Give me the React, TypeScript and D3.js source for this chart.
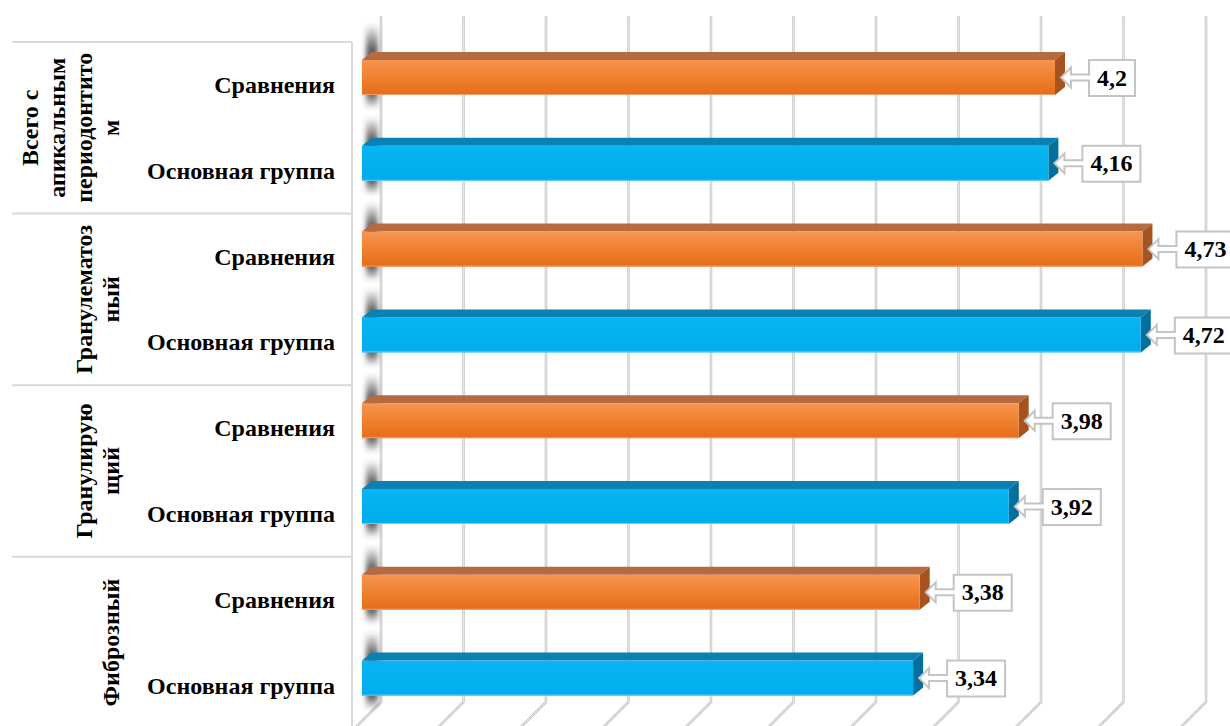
import React from "react";
import * as d3 from "d3";

// Categories (top to bottom) and their wrapped, rotated label lines
const categories = ["Всего с апикальным периодонтитом", "Гранулематозный", "Гранулирующий", "Фиброзный"];
const categoryLines = [
  ["Всего с", "апикальным", "периодонтито", "м"],
  ["Гранулематоз", "ный"],
  ["Гранулирую", "щий"],
  ["Фиброзный"],
];
const groups = ["Сравнения", "Основная группа"];
const comparisonValues = [4.2, 4.73, 3.98, 3.38];
const mainValues = [4.16, 4.72, 3.92, 3.34];
const axisMax = 5;

const W = 1230;
const H = 726;
const FONT =
  "'Liberation Serif', 'Times New Roman', Times, Tinos, 'Noto Serif', 'DejaVu Serif', FreeSerif, 'Nimbus Roman', serif";

type Row = { key: string; cat: number; group: number; value: number };

const rows: Row[] = [];
categories.forEach((c, i) => {
  rows.push({ key: `${c}|${groups[0]}`, cat: i, group: 0, value: comparisonValues[i] });
  rows.push({ key: `${c}|${groups[1]}`, cat: i, group: 1, value: mainValues[i] });
});

const fmt = (v: number) => String(v).replace(".", ",");
const textStyle: React.CSSProperties = { fontFamily: FONT, fontWeight: 700, fontSize: "24px" };

export default function App() {
  const tableTop = 42;
  const rowStep = 85.8;
  const y = d3
    .scaleBand<string>()
    .domain(rows.map((r) => r.key))
    .range([tableTop, tableTop + rows.length * rowStep])
    .padding(0);

  // front-face value scale and back-wall offset
  const x = d3.scaleLinear().domain([0, axisMax]).range([362, 1187]);
  const wallDx = 19;
  const depthDx = 10;
  const depthDy = 8;
  const barOffset = 18;
  const barH = 35;
  const wallTop = 17;
  const floorY = 702;

  const ticks = x.ticks(10);
  const catTops = categories.map((_, i) => y(rows[i * 2].key) as number);

  return (
    <svg
      width={W}
      height={H}
      style={{ position: "absolute", left: 0, top: 0, background: "#fff" }}
    >
      <defs>
        <linearGradient id="orangeFront" x1="0" y1="0" x2="0" y2="1">
          <stop offset="0" stopColor="#f69552" />
          <stop offset="0.5" stopColor="#f0802f" />
          <stop offset="1" stopColor="#e56d1b" />
        </linearGradient>
        <linearGradient id="blueFront" x1="0" y1="0" x2="0" y2="1">
          <stop offset="0" stopColor="#08b4f2" />
          <stop offset="1" stopColor="#00adec" />
        </linearGradient>
        <linearGradient id="wallShade" x1="0" y1="0" x2="0" y2="1">
          <stop offset="0" stopColor="#333" stopOpacity="0" />
          <stop offset="0.3" stopColor="#333" stopOpacity="0.8" />
          <stop offset="0.82" stopColor="#333" stopOpacity="0.8" />
          <stop offset="1" stopColor="#333" stopOpacity="0" />
        </linearGradient>
        <filter id="soft" x="-50%" y="-20%" width="200%" height="140%">
          <feGaussianBlur stdDeviation="2.4" />
        </filter>
      </defs>

      {/* back wall grid with floor perspective */}
      {ticks.map((t) => {
        const gx = x(t) + wallDx;
        return (
          <g key={`g${t}`}>
            <path
              d={`M${gx},${wallTop} L${gx},${floorY} L${gx - 40},${floorY + 40}`}
              fill="none"
              stroke="#c9c9c9"
              strokeWidth={2.6}
              strokeLinejoin="round"
              strokeLinecap="round"
            />
            <path
              d={`M${gx},${wallTop} L${gx},${floorY} L${gx - 40},${floorY + 40}`}
              fill="none"
              stroke="#ededed"
              strokeWidth={0.8}
            />
          </g>
        );
      })}

      {/* category table lines */}
      {catTops.map((ty, i) => (
        <line key={`h${i}`} x1={12} x2={352} y1={ty} y2={ty} stroke="#d9d9d9" strokeWidth={2} />
      ))}
      <line x1={352} x2={352} y1={tableTop} y2={H + 10} stroke="#d9d9d9" strokeWidth={2} />

      {/* side wall shading */}
      {rows.map((r, i) => {
        const top = (y(r.key) as number) + barOffset - depthDy;
        const above = i === 0 ? 28 : 21;
        const below = 14;
        return (
          <rect
            key={`s${r.key}`}
            x={366}
            y={top - above}
            width={12}
            height={above + depthDy + barH + below}
            fill="url(#wallShade)"
            filter="url(#soft)"
          />
        );
      })}

      {/* bars */}
      {rows.map((r) => {
        const y0 = (y(r.key) as number) + barOffset;
        const y1 = y0 + barH;
        const x0 = x(0);
        const x1 = x(r.value);
        const orange = r.group === 0;
        return (
          <g key={`b${r.key}`}>
            <path
              d={`M${x0},${y0} L${x0 + depthDx},${y0 - depthDy} L${x1 + depthDx},${y0 - depthDy} L${x1},${y0} Z`}
              fill={orange ? "#b66a42" : "#0b80b2"}
            />
            <path
              d={`M${x1},${y0} L${x1 + depthDx},${y0 - depthDy} L${x1 + depthDx},${y1 - depthDy} L${x1},${y1} Z`}
              fill={orange ? "#a6531f" : "#036f9c"}
            />
            <rect
              x={x0}
              y={y0}
              width={x1 - x0}
              height={barH}
              fill={orange ? "url(#orangeFront)" : "url(#blueFront)"}
            />
            <line
              x1={x0}
              x2={x1}
              y1={y1 - 0.5}
              y2={y1 - 0.5}
              stroke={orange ? "#f2a06a" : "#6cccf2"}
              strokeWidth={1}
            />
          </g>
        );
      })}

      {/* callout data labels */}
      {rows.map((r) => {
        const y0 = (y(r.key) as number) + barOffset;
        const cy = y0 + barH / 2;
        const tip = x(r.value) + 6;
        const headX = tip + 10;
        const bx = tip + 28;
        const txt = fmt(r.value);
        const tw = txt.split("").reduce((s, ch) => s + (ch === "," ? 0.25 : 0.5), 0) * 24;
        const bw = tw + 16;
        const bt = y0;
        const bb = y0 + barH + 1;
        const d = [
          `M${bx},${bt}`,
          `L${bx + bw},${bt}`,
          `L${bx + bw},${bb}`,
          `L${bx},${bb}`,
          `L${bx},${cy + 3}`,
          `L${headX},${cy + 3}`,
          `L${headX},${cy + 10}`,
          `L${tip},${cy}`,
          `L${headX},${cy - 10}`,
          `L${headX},${cy - 3}`,
          `L${bx},${cy - 3}`,
          "Z",
        ].join(" ");
        return (
          <g key={`l${r.key}`}>
            <path d={d} fill="#fff" stroke="#c4c4c4" strokeWidth={2} strokeLinejoin="miter" />
            <text x={bx + bw / 2} y={cy + 8} textAnchor="middle" style={textStyle} fill="#000">
              {txt}
            </text>
          </g>
        );
      })}

      {/* group labels */}
      {rows.map((r) => (
        <text
          key={`t${r.key}`}
          x={335}
          y={(y(r.key) as number) + rowStep / 2 + 8}
          textAnchor="end"
          style={textStyle}
          fill="#000"
        >
          {groups[r.group]}
        </text>
      ))}

      {/* rotated category labels */}
      {categoryLines.map((lines, i) => {
        const cy = catTops[i] + rowStep;
        const lastX = 119;
        const lh = 27;
        return (
          <g key={`c${i}`}>
            {lines.map((ln, j) => (
              <text
                key={j}
                transform={`translate(${lastX - (lines.length - 1 - j) * lh},${cy}) rotate(-90)`}
                textAnchor="middle"
                style={textStyle}
                fill="#000"
              >
                {ln}
              </text>
            ))}
          </g>
        );
      })}
    </svg>
  );
}
